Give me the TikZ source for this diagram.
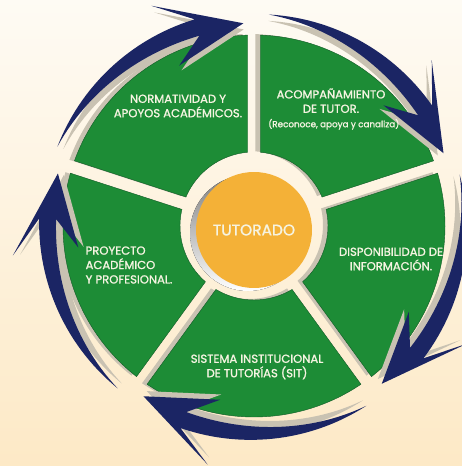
\documentclass[tikz,border=0pt]{standalone}
\usepackage{fontspec}
\setmainfont{Poppins}
\newfontfamily\lblfont{Poppins}[FakeBold=1.3]
\usetikzlibrary{math}
\definecolor{bgtop}{RGB}{254,251,244}
\definecolor{bgbot}{RGB}{253,233,198}
\definecolor{leaf}{RGB}{29,140,54}
\definecolor{leafline}{RGB}{18,92,40}
\definecolor{shade}{RGB}{201,194,178}
\definecolor{core}{RGB}{244,177,55}
\definecolor{navy}{RGB}{27,37,100}
\definecolor{txt}{RGB}{246,244,226}

\begin{document}
\begin{tikzpicture}[
        scale=0.05,
        piece/.style={fill=leaf, draw=leafline, line width=0.6pt},
        pieceshadow/.style={fill=shade, shift={(-5,1)}},
        arrowshadow/.style={fill=shade},
        arrowbody/.style={fill=navy},
        lbl/.style={text=txt, align=center, inner sep=0pt, font=\lblfont\fontsize{16.5}{20.5}\selectfont},
        hub/.style={circle, fill=core, minimum size=5.8cm, text=txt, font=\lblfont\fontsize{22}{24}\selectfont},
        ]
        % background
        \clip (-254,-240) rectangle (208,226);
        \fill[top color=bgtop, bottom color=bgbot] (-254,-240) rectangle (208,226);
        \tikzmath{
          \rout = 191; \rin = 74; \gapw = 6.5;
          \dout = asin(\gapw/\rout); \din = asin(\gapw/\rin);
        }
        % five pieces of the wheel
        \foreach \s in {90,18,-54,-126,-198}{
          \foreach \layer in {pieceshadow,piece}{
            \path[\layer] ({\s-\dout}:\rout) arc[start angle=\s-\dout, end angle=\s-72+\dout, radius=\rout]
              -- ({\s-72+\din}:\rin) arc[start angle=\s-72+\din, end angle=\s-\din, radius=\rin] -- cycle;
          }
        }
        % arrows round the wheel
        \foreach \tl in {158,86,14,-58,-130}{
          \pgfmathsetmacro\tp{\tl-65}
          \pgfmathsetmacro\nc{\tp+13}
          \pgfmathsetmacro\bb{\tp+22}
          \foreach \layer/\k in {arrowshadow/0.97,arrowbody/1}{
            \fill[\layer, scale=\k]
              plot[domain=\tl:\nc, samples=30] (\x:{212+3*(\tl-\x)/(\tl-\nc)})
              -- (\bb:243) -- (\tp:203) -- (\bb:177)
              -- plot[domain=\nc:\tl, samples=30] (\x:{212-14*sin(90*(\tl-\x)/(\tl-\nc))})
              -- cycle;
          }
        }
        % centre
        \fill[shade] (-6,-7) circle[radius=58];
        \node(tutor)[hub] at (0,-4) {TUTORADO};
        % labels
        \node(norm)[lbl] at (-76,120) {NORMATIVIDAD Y\\APOYOS ACADÉMICOS.};
        \node(acomp)[lbl] at (77,117) {ACOMPAÑAMIENTO\\DE TUTOR.\\{\fontsize{12.5}{16}\selectfont\hspace*{8pt}(Reconoce, apoya y canaliza)}};
        \node(dispo)[lbl] at (137,-33) {DISPONIBILIDAD DE\\INFORMACIÓN.};
        \node(sit)[lbl] at (3,-141) {SISTEMA INSTITUCIONAL\\DE TUTORÍAS (SIT)};
        \node(proy)[lbl, align=left] at (-125,-39) {PROYECTO\\ACADÉMICO\\Y PROFESIONAL.};
\end{tikzpicture}
\end{document}
